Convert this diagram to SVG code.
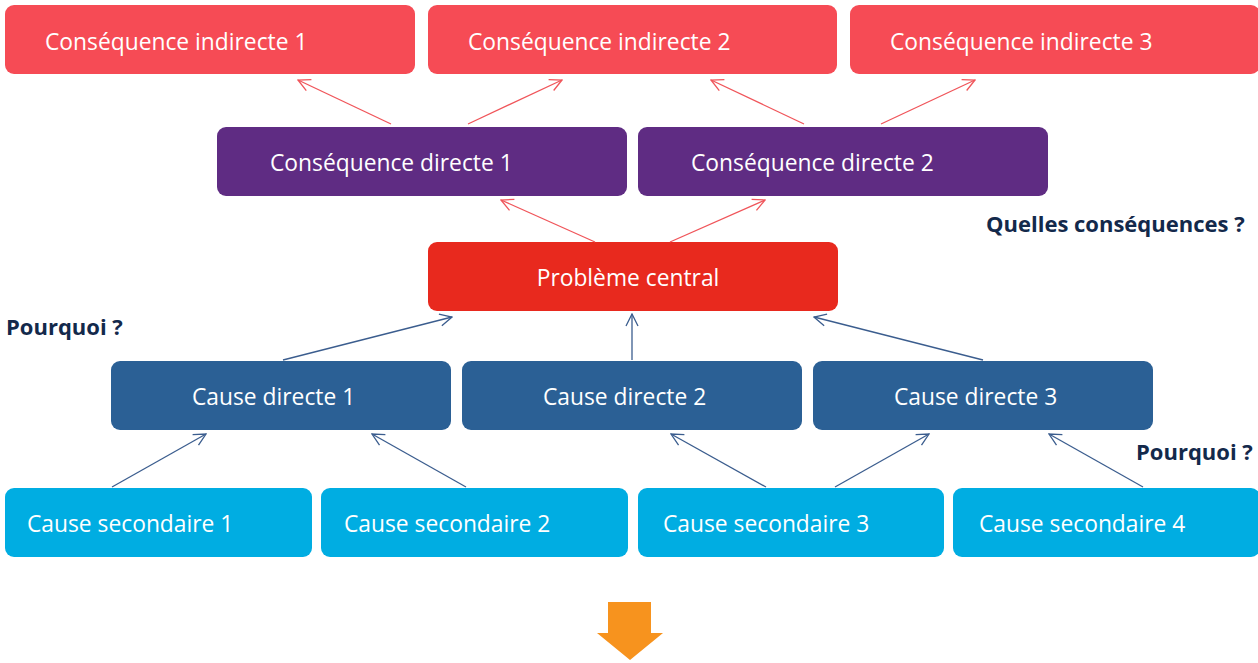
<svg xmlns="http://www.w3.org/2000/svg" width="1258" height="663" viewBox="0 0 1258 663">
<style>
.t{font-family:"Open Sans","Noto Sans",sans-serif;font-size:22.8px;fill:#fff}
.q{font-family:"Open Sans","Noto Sans",sans-serif;font-size:22px;font-weight:bold;fill:#13294b}
.ind{fill:#f64b55}
.dir{fill:#5f2c83}
.cen{fill:#e8291e}
.cd{fill:#2b6095}
.cs{fill:#00ade2}
.ra{stroke:#f0555a;stroke-width:1.3;fill:none;marker-end:url(#mr)}
.ba{stroke:#3b5d8e;stroke-width:1.3;fill:none;marker-end:url(#mb)}
</style>
<defs>
<marker id="mr" viewBox="0 0 14 14" refX="13" refY="7" markerWidth="14" markerHeight="14" markerUnits="userSpaceOnUse" orient="auto">
<path d="M1,1 L13,7 L1,13" fill="none" stroke="#f0555a" stroke-width="1.3"/>
</marker>
<marker id="mb" viewBox="0 0 14 14" refX="13" refY="7" markerWidth="14" markerHeight="14" markerUnits="userSpaceOnUse" orient="auto">
<path d="M1,1 L13,7 L1,13" fill="none" stroke="#3b5d8e" stroke-width="1.3"/>
</marker>
</defs>
<g id="ci1"><rect class="ind" x="5" y="5" width="410" height="69" rx="9"/><text class="t" x="45" y="50">Conséquence indirecte 1</text></g>
<g id="ci2"><rect class="ind" x="428" y="5" width="409" height="69" rx="9"/><text class="t" x="468" y="50">Conséquence indirecte 2</text></g>
<g id="ci3"><rect class="ind" x="850" y="5" width="410" height="69" rx="9"/><text class="t" x="890" y="50">Conséquence indirecte 3</text></g>
<g id="cdir1"><rect class="dir" x="217" y="127" width="410" height="69" rx="9"/><text class="t" x="270" y="171">Conséquence directe 1</text></g>
<g id="cdir2"><rect class="dir" x="638" y="127" width="410" height="69" rx="9"/><text class="t" x="691" y="171">Conséquence directe 2</text></g>
<g id="central"><rect class="cen" x="428" y="242" width="410" height="69" rx="9"/><text class="t" x="628" y="286" text-anchor="middle">Problème central</text></g>
<g id="cause1"><rect class="cd" x="111" y="361" width="340" height="69" rx="9"/><text class="t" x="192" y="405">Cause directe 1</text></g>
<g id="cause2"><rect class="cd" x="462" y="361" width="340" height="69" rx="9"/><text class="t" x="543" y="405">Cause directe 2</text></g>
<g id="cause3"><rect class="cd" x="813" y="361" width="340" height="69" rx="9"/><text class="t" x="894" y="405">Cause directe 3</text></g>
<g id="cs1"><rect class="cs" x="5" y="488" width="307" height="69" rx="9"/><text class="t" x="27" y="532">Cause secondaire 1</text></g>
<g id="cs2"><rect class="cs" x="321" y="488" width="307" height="69" rx="9"/><text class="t" x="344" y="532">Cause secondaire 2</text></g>
<g id="cs3"><rect class="cs" x="638" y="488" width="306" height="69" rx="9"/><text class="t" x="663" y="532">Cause secondaire 3</text></g>
<g id="cs4"><rect class="cs" x="953" y="488" width="307" height="69" rx="9"/><text class="t" x="979" y="532">Cause secondaire 4</text></g>
<g id="labels">
<text class="q" x="986" y="232">Quelles conséquences ?</text>
<text class="q" x="6" y="335">Pourquoi ?</text>
<text class="q" x="1136" y="460">Pourquoi ?</text>
</g>
<g id="connectors">
<line class="ra" x1="391" y1="124" x2="298" y2="80"/>
<line class="ra" x1="468" y1="124" x2="562" y2="80"/>
<line class="ra" x1="804" y1="124" x2="711" y2="80"/>
<line class="ra" x1="881" y1="124" x2="975" y2="80"/>
<line class="ra" x1="595" y1="242" x2="501" y2="200"/>
<line class="ra" x1="670" y1="242" x2="765" y2="200"/>
<line class="ba" x1="283" y1="360" x2="452" y2="317"/>
<line class="ba" x1="632" y1="360" x2="632" y2="314"/>
<line class="ba" x1="983" y1="360" x2="814" y2="317"/>
<line class="ba" x1="112" y1="487" x2="206" y2="434"/>
<line class="ba" x1="466" y1="487" x2="372" y2="434"/>
<line class="ba" x1="766" y1="487" x2="671" y2="434"/>
<line class="ba" x1="835" y1="487" x2="929" y2="434"/>
<line class="ba" x1="1143" y1="487" x2="1049" y2="434"/>
</g>
<g id="down-arrow"><path d="M608,602 H651 V633 H663 L630,660 L597,633 H608 Z" fill="#f7931e"/></g>
</svg>
